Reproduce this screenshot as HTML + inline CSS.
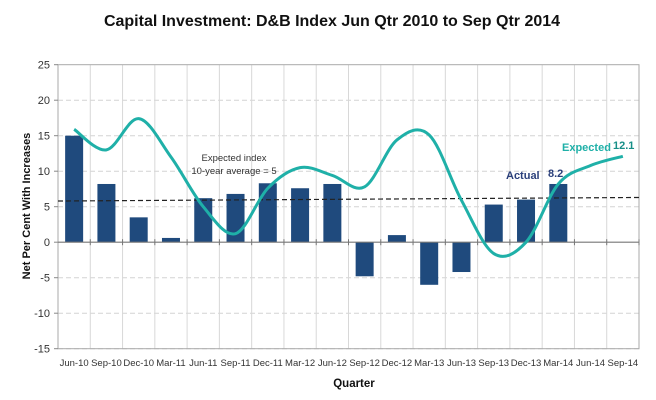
<!DOCTYPE html>
<html><head><meta charset="utf-8"><style>
body{margin:0;background:#fff;}
svg{display:block;font-family:"Liberation Sans",sans-serif;}
</style></head><body>
<svg id="chart" width="656" height="400">
<text x="332" y="26" text-anchor="middle" font-size="16" font-weight="bold" fill="#111">Capital Investment: D&amp;B Index Jun Qtr 2010 to Sep Qtr 2014</text>
<text transform="translate(30,206) rotate(-90)" text-anchor="middle" font-size="11" font-weight="bold" fill="#111">Net Per Cent With Increases</text>
<text x="354" y="387" text-anchor="middle" font-size="11.5" font-weight="bold" fill="#111">Quarter</text>
<g id="grid"></g><g id="bars"></g><g id="axes"></g><g id="lines"></g>
<text x="234" y="161" text-anchor="middle" font-size="9.5" fill="#333">Expected index</text>
<text x="234" y="174" text-anchor="middle" font-size="9.5" fill="#333">10-year average = 5</text>
<text x="506" y="179" font-size="11" font-weight="bold" fill="#2a3f7a">Actual</text>
<text x="548" y="177" font-size="11" font-weight="bold" fill="#2a3f7a">8.2</text>
<text x="562" y="151" font-size="11" font-weight="bold" fill="#1fb0a8">Expected</text>
<text x="613" y="149" font-size="11" font-weight="bold" fill="#178f88">12.1</text>
</svg>
<script>
const categories=["Jun-10","Sep-10","Dec-10","Mar-11","Jun-11","Sep-11","Dec-11","Mar-12","Jun-12","Sep-12","Dec-12","Mar-13","Jun-13","Sep-13","Dec-13","Mar-14","Jun-14","Sep-14"];
const actual=[15,8.2,3.5,0.6,6.2,6.8,8.3,7.6,8.2,-4.8,1,-6,-4.2,5.3,6,8.2,null,null];
const expected=[15.9,13,17.4,12,5,1.2,7.6,10.5,9.4,7.8,14.4,15.1,5.9,-1.6,0.0,8.2,10.8,12.1];
const average=[5.8,6.3];
const yTicks=[25,20,15,10,5,0,-5,-10,-15];
const L=58,R=639,T=64.7,B=348.7,yMin=-15,yMax=25;
const n=categories.length,bw=(R-L)/n;
const X=i=>L+bw*(i+0.5);
const Y=v=>B-(v-yMin)/(yMax-yMin)*(B-T);
const NS="http://www.w3.org/2000/svg";
function mk(t,a,p){const e=document.createElementNS(NS,t);for(const k in a)e.setAttribute(k,a[k]);p.appendChild(e);return e;}
const grid=document.getElementById('grid'),bars=document.getElementById('bars'),axes=document.getElementById('axes'),lines=document.getElementById('lines');
yTicks.forEach(v=>{
 if(v!==0&&v!==yMax){const g=mk('line',{x1:L,x2:R,y1:Y(v),y2:Y(v),stroke:'#d4d4d4','stroke-dasharray':'5,3'},grid);
 
 }
 const t=mk('text',{x:L-8,y:Y(v)+4,'text-anchor':'end','font-size':11,fill:'#333'},axes);t.textContent=v;
 
 
 mk('line',{x1:L-4,x2:L,y1:Y(v),y2:Y(v),stroke:'#888'},axes);
});
for(let i=1;i<n;i++){const g=mk('line',{x1:L+bw*i,x2:L+bw*i,y1:T,y2:B,stroke:'#d8d8d8'},grid);
 
 }
mk('rect',{x:L,y:T,width:R-L,height:B-T,fill:'none',stroke:'#aaa'},grid);
categories.forEach((c,i)=>{
 const t=mk('text',{x:X(i),y:366,'text-anchor':'middle','font-size':9.5,fill:'#333'},axes);t.textContent=c;
 
 
 mk('line',{x1:L+bw*(i+1),x2:L+bw*(i+1),y1:Y(0)-3,y2:Y(0)+3,stroke:'#777'},axes);
 const v=actual[i];if(v===null)return;
 const b=mk('rect',{x:X(i)-9,y:Math.min(Y(v),Y(0)),width:18,height:Math.abs(Y(v)-Y(0)),fill:'#1f4a7d'},bars);
 
 
});
mk('line',{x1:L,x2:R,y1:Y(0),y2:Y(0),stroke:'#777','stroke-width':1.2},axes);
const avg=mk('line',{x1:L,x2:R,y1:Y(average[0]),y2:Y(average[1]),stroke:'#222','stroke-dasharray':'5,3','stroke-width':1.2},lines);


const P=expected.map((v,i)=>[X(i),Y(v)]);
let d='M'+P[0][0]+','+P[0][1];
for(let i=0;i<P.length-1;i++){const p0=P[i-1]||P[i],p1=P[i],p2=P[i+1],p3=P[i+2]||p2;
 d+=' C'+(p1[0]+(p2[0]-p0[0])/6)+','+(p1[1]+(p2[1]-p0[1])/6)+' '+(p2[0]-(p3[0]-p1[0])/6)+','+(p2[1]-(p3[1]-p1[1])/6)+' '+p2[0]+','+p2[1];}
const ln=mk('path',{d:d,fill:'none',stroke:'#1fb0a8','stroke-width':3},lines);


</script>
</body></html>
